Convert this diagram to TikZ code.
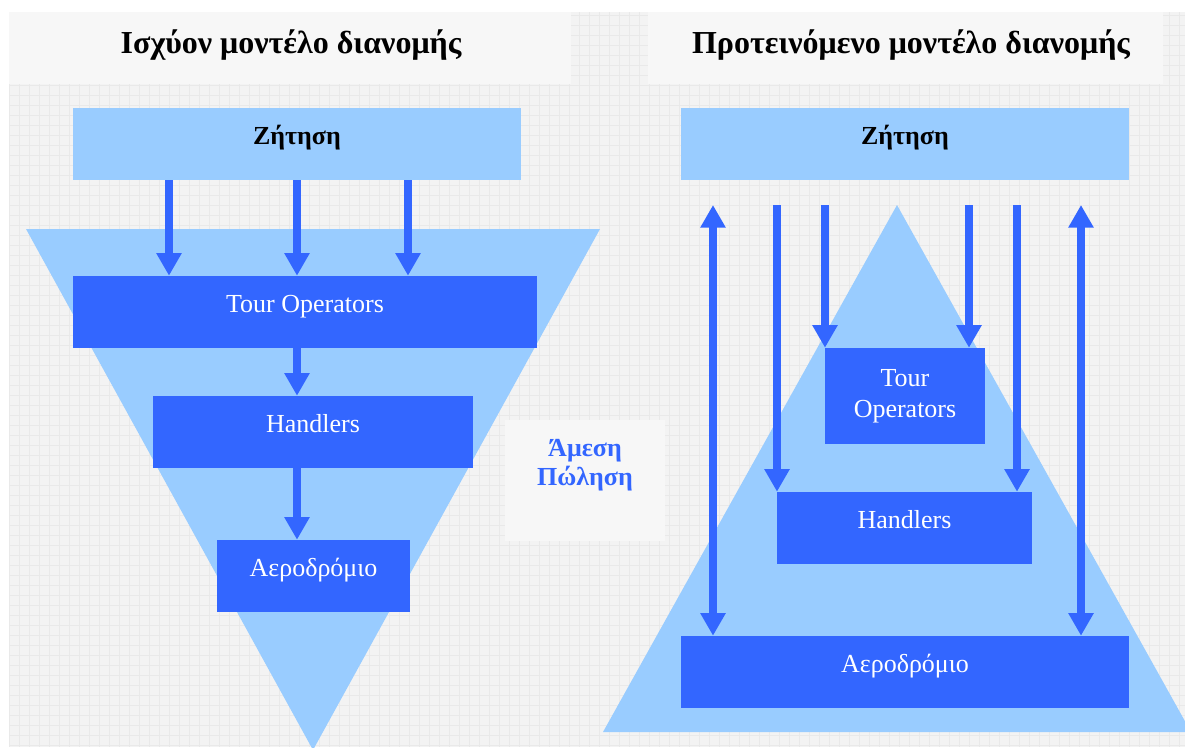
\documentclass[tikz,border=0pt]{standalone}
\usepackage{fontspec}
\setmainfont{Liberation Serif}
\usetikzlibrary{arrows.meta}
\definecolor{paleblue}{HTML}{99CCFF}
\definecolor{royal}{HTML}{3366FF}
\definecolor{sheet}{HTML}{F3F3F3}
\definecolor{gridc}{HTML}{E9E9E9}
\definecolor{panel}{HTML}{F7F7F7}

\begin{document}
\begin{tikzpicture}[x=0.75pt,y=-0.75pt,
  blk/.style={fill=royal,text=white,inner sep=0pt,font=\fontsize{19.5}{23.25}\selectfont},
  lightblk/.style={fill=paleblue,inner sep=0pt,font=\bfseries\fontsize{19.5}{23.25}\selectfont},
  oneline/.style={text height=27pt,text depth=27pt,minimum height=54pt},
  tip/.tip={Triangle[width=18pt,length=17pt]},
  flow/.style={line width=6pt,draw=royal,-tip},
  twoway/.style={line width=6pt,draw=royal,tip-tip},
  titletxt/.style={font=\bfseries\fontsize{24}{28}\selectfont,anchor=base,inner sep=0pt},
  wedge/.style={fill=paleblue}
]
\useasboundingbox (0,0) rectangle (1185,747);
\fill[white] (0,0) rectangle (1185,747);

\begin{scope}
\clip (0,0) rectangle (1185,747);
% gridded sheet
\fill[sheet] (9,12) rectangle (1185,747);
\foreach \gx in {9,19,...,1179}
  \draw[gridc,line width=0.6pt] (\gx,12) -- (\gx,747);
\foreach \gy in {15,25,...,745}
  \draw[gridc,line width=0.6pt] (9,\gy) -- (1185,\gy);

% title panels
\fill[panel] (9,12) rectangle (571,84);
\fill[panel] (648,12) rectangle (1163,84);
\node[titletxt] (tl) at (291,53) {Ισχύον μοντέλο διανομής};
\node[titletxt] (tr) at (911,53) {Προτεινόμενο μοντέλο διανομής};

% funnel and pyramid
\fill[wedge] (26,229) -- (600,229) -- (313,750) -- cycle;
\fill[wedge] (897,205) -- (1191,732) -- (603,732) -- cycle;

% direct sales panel
\node[fill=panel,minimum width=120pt,minimum height=90.75pt,inner sep=0pt] (ms) at (585,480.5) {};
\node[text=royal,align=center,font=\bfseries\fontsize{19.5}{21.75}\selectfont] (mst) at (585,465) {Άμεση\\Πώληση};

% current model
\node[lightblk,oneline,minimum width=336pt] (zl) at (297,144) {Ζήτηση};
\node[blk,oneline,minimum width=348pt] (tol) at (305,312) {Tour Operators};
\node[blk,oneline,minimum width=240pt] (hl) at (313,432) {Handlers};
\node[blk,oneline,minimum width=144.75pt] (al) at (313.5,576) {Αεροδρόμιο};

\coordinate (a1) at (169,0);
\coordinate (a2) at (297,0);
\coordinate (a3) at (408,0);
\foreach \c in {a1,a2,a3}
  \draw[flow] (zl.south -| \c) -- (tol.north -| \c);
\draw[flow] (tol.south -| a2) -- (hl.north -| a2);
\draw[flow] (hl.south -| a2) -- (al.north -| a2);

% proposed model
\node[lightblk,oneline,minimum width=336pt] (zr) at (905,144) {Ζήτηση};
\node[blk,align=center,minimum width=120pt,minimum height=72pt] (tor) at (905,396) {Tour\\Operators};
\node[blk,oneline,minimum width=191.25pt] (hr) at (904.5,528) {Handlers};
\node[blk,oneline,minimum width=336pt] (ar) at (905,672) {Αεροδρόμιο};

\coordinate (b1) at (713,205);
\coordinate (b2) at (777,205);
\coordinate (b3) at (825,205);
\coordinate (b4) at (969,205);
\coordinate (b5) at (1017,205);
\coordinate (b6) at (1081,205);
\draw[twoway] (b1) -- (ar.north -| b1);
\draw[twoway] (b6) -- (ar.north -| b6);
\draw[flow] (b2) -- (hr.north -| b2);
\draw[flow] (b5) -- (hr.north -| b5);
\draw[flow] (b3) -- (tor.north -| b3);
\draw[flow] (b4) -- (tor.north -| b4);
\end{scope}
\end{tikzpicture}
\end{document}
